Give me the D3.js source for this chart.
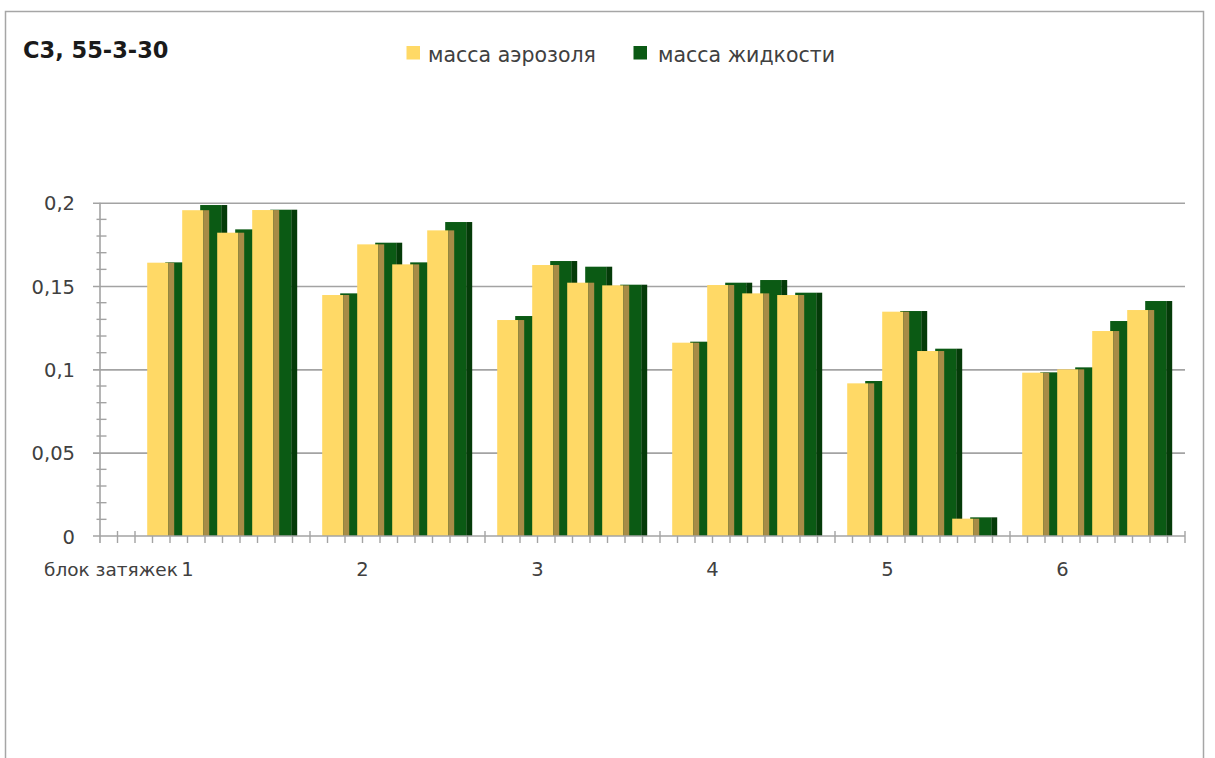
<!DOCTYPE html>
<html>
<head>
<meta charset="utf-8">
<script src="https://cdn.jsdelivr.net/npm/d3@7"></script>
<style>
  html, body { margin: 0; padding: 0; background: #fff; }
  svg { display: block; }
  text { font-family: "DejaVu Sans", sans-serif; fill: #404040; }
</style>
</head>
<body>
<svg id="chart" width="1215" height="758"></svg>
<script>
// Puff blocks and the four puffs measured in each block
const blockLabels = ["1", "2", "3", "4", "5", "6"];
const puffsPerBlock = 4;
const firstAxisLabel = "блок затяжек";

// Aerosol mass per puff, grouped block by block
const aerosolMass = [
  0.164, 0.1955, 0.182, 0.1956,
  0.1446, 0.175, 0.163, 0.1834,
  0.1296, 0.1626, 0.152, 0.1504,
  0.116, 0.1506, 0.1456, 0.1446,
  0.0916, 0.1346, 0.111, 0.0104,
  0.098, 0.100, 0.123, 0.1356
];

// Liquid mass per puff, same order
const liquidMass = [
  0.1642, 0.1986, 0.184, 0.1958,
  0.1456, 0.176, 0.1642, 0.1884,
  0.132, 0.165, 0.1616, 0.1508,
  0.1166, 0.152, 0.1536, 0.146,
  0.093, 0.135, 0.1124, 0.0112,
  0.0982, 0.1012, 0.129, 0.141
];

const yTicks = [0, 0.05, 0.1, 0.15, 0.2];
const seriesNames = ["масса аэрозоля", "масса жидкости"];
const colors = {
  aerosol: "#FFD966", aerosolSide: "#A88C46",
  liquid: "#0B5A14", liquidSide: "#053B09"
};

// Category slots along the axis: a leading label slot, then per block
// four puffs and one empty spacer slot.
const slotsPerBlock = puffsPerBlock + 1;
const slotCount = 1 + blockLabels.length * slotsPerBlock;
const slots = d3.range(slotCount);
const slotLabel = slots.map(i => {
  if (i === 0) return firstAxisLabel;
  const k = i - 2;
  return (k >= 0 && k % slotsPerBlock === 0) ? blockLabels[k / slotsPerBlock] : "";
});

const svg = d3.select("#chart");
const plot = { left: 100, right: 1185, top: 202.7, bottom: 536 };

const x = d3.scaleBand().domain(slots).range([plot.left, plot.right]).padding(0);
const y = d3.scaleLinear().domain([0, 0.2]).range([plot.bottom, plot.top]);
const fmt = v => String(v).replace(".", ",");

// Frame around the chart area
svg.append("rect")
  .attr("x", 5.5).attr("y", 11.5)
  .attr("width", 1198).attr("height", 800)
  .attr("fill", "none").attr("stroke", "#a6a6a6").attr("stroke-width", 1.5);

// Title
svg.append("text")
  .attr("x", 23).attr("y", 58)
  .style("font-weight", "bold").style("font-size", "22.5px")
  .style("fill", "#1a1a1a")
  .text("С3, 55-3-30");

// Legend
const legend = svg.append("g");
const legendItems = [
  { name: seriesNames[0], color: colors.aerosol, sx: 406.5, tx: 428 },
  { name: seriesNames[1], color: colors.liquid, sx: 633.5, tx: 658 }
];
legendItems.forEach(d => {
  legend.append("rect")
    .attr("x", d.sx).attr("y", 46).attr("width", 13.5).attr("height", 13.5)
    .attr("fill", d.color);
  legend.append("text")
    .attr("x", d.tx).attr("y", 61.5)
    .style("font-size", "20.5px")
    .text(d.name);
});

// Horizontal gridlines with outward major ticks
svg.append("g")
  .attr("transform", `translate(${plot.right},0)`)
  .call(d3.axisLeft(y).tickValues(yTicks.slice(1)).tickSize(plot.right - 93).tickFormat(""))
  .call(g => g.select(".domain").remove())
  .call(g => g.selectAll("line").attr("stroke", "#a3a3a3").attr("stroke-width", 1.6));

// Minor ticks crossing the value axis
const minorTicks = d3.range(1, 20).map(i => i * 0.01).filter(v => Math.round(v * 100) % 5 !== 0);
svg.append("g").selectAll("line").data(minorTicks).join("line")
  .attr("x1", 96.5).attr("x2", 106.5)
  .attr("y1", d => y(d)).attr("y2", d => y(d))
  .attr("stroke", "#a3a3a3").attr("stroke-width", 1.4);

// Value axis labels
svg.append("g").selectAll("text").data(yTicks).join("text")
  .attr("x", 75).attr("y", d => y(d) + 7.5)
  .attr("text-anchor", "end")
  .style("font-size", "19.5px")
  .text(d => fmt(d));

// Category axis ticks, every half slot
const halfTicks = d3.range(1, slotCount * 2 + 1).map(i => plot.left + i * x.bandwidth() / 2);
svg.append("g").selectAll("line").data(halfTicks).join("line")
  .attr("x1", d => d).attr("x2", d => d)
  .attr("y1", 531).attr("y2", 543)
  .attr("stroke", "#a3a3a3").attr("stroke-width", 1.4);

// Bars: each puff draws a liquid column partly behind the aerosol column,
// both with a shaded side face.
const puffs = aerosolMass.map((a, i) => {
  const b = Math.floor(i / puffsPerBlock), p = i % puffsPerBlock;
  return { slot: 1 + b * slotsPerBlock + p, aerosol: a, liquid: liquidMass[i] };
});
const frontW = 21, sideW = 6, greenShift = 18, barOffset = 12.2;
const bars = svg.append("g");
puffs.forEach(d => {
  const x0 = x(d.slot) + barOffset;
  const gx = x0 + greenShift;
  bars.append("rect").attr("x", gx + frontW).attr("y", y(d.liquid))
    .attr("width", sideW).attr("height", plot.bottom - y(d.liquid)).attr("fill", colors.liquidSide);
  bars.append("rect").attr("x", gx).attr("y", y(d.liquid))
    .attr("width", frontW).attr("height", plot.bottom - y(d.liquid)).attr("fill", colors.liquid);
  bars.append("rect").attr("x", x0).attr("y", y(d.aerosol))
    .attr("width", frontW).attr("height", plot.bottom - y(d.aerosol)).attr("fill", colors.aerosol);
  bars.append("rect").attr("x", x0 + frontW).attr("y", y(d.aerosol))
    .attr("width", sideW).attr("height", plot.bottom - y(d.aerosol)).attr("fill", colors.aerosolSide);
});

// Axis lines
svg.append("line")
  .attr("x1", plot.left).attr("x2", plot.left).attr("y1", plot.top).attr("y2", plot.bottom + 7)
  .attr("stroke", "#a3a3a3").attr("stroke-width", 1.6);
svg.append("line")
  .attr("x1", 93).attr("x2", plot.right).attr("y1", plot.bottom).attr("y2", plot.bottom)
  .attr("stroke", "#a3a3a3").attr("stroke-width", 1.6);

// Category labels; the leading label is left-aligned so it ends before block 1
const labelled = slots.filter(i => slotLabel[i] !== "");
svg.append("g").selectAll("text").data(labelled).join("text")
  .attr("x", i => i === 0 ? 44 : x(i) + x.bandwidth() / 2)
  .attr("y", 576)
  .attr("text-anchor", i => i === 0 ? "start" : "middle")
  .style("font-size", i => i === 0 ? "18.5px" : "19.5px")
  .text(i => slotLabel[i]);
</script>
</body>
</html>
